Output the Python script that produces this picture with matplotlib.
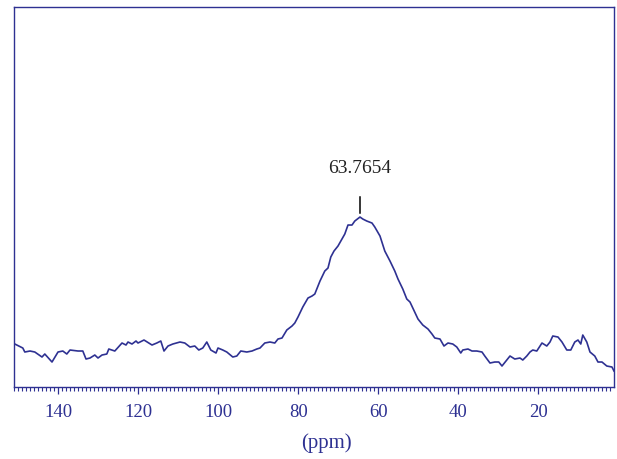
import matplotlib
matplotlib.use("Agg")
import matplotlib.pyplot as plt
from matplotlib.ticker import MultipleLocator

# spectrum (ppm, intensity in arbitrary units)
ppm = [150.9, 148.9, 148.4, 147.1, 145.9, 144.1, 143.4, 141.6, 140.1, 138.9,
       137.9, 137.1, 135.1, 133.9, 133.1, 132.1, 130.9, 130.1, 129.1, 127.9,
       127.4, 125.9, 124.1, 123.1, 122.6, 121.6, 120.6, 120.1, 118.6, 116.6,
       115.4, 114.4, 113.6, 112.6, 111.4, 109.6, 108.4, 107.1, 105.9, 104.9,
       103.9, 102.9, 101.9, 100.6, 100.1, 98.9, 97.9, 96.4, 95.4, 94.4,
       92.9, 91.6, 90.4, 89.6, 88.4, 87.1, 85.9, 85.1, 84.1, 82.9,
       81.6, 80.9, 80.1, 78.9, 77.6, 76.6, 75.9, 74.6, 73.4, 72.6,
       71.9, 71.1, 70.1, 69.1, 68.4, 67.6, 66.6, 65.9, 64.6, 63.9,
       62.9, 61.6, 60.9, 59.6, 58.4, 57.1, 55.9, 55.1, 53.9, 52.9,
       52.1, 50.1, 48.9, 47.6, 46.6, 45.9, 44.6, 43.6, 42.6, 41.4,
       40.4, 39.4, 38.9, 37.6, 36.6, 35.4, 34.1, 33.4, 32.1, 30.9,
       29.9, 29.1, 27.9, 27.1, 25.9, 24.6, 23.9, 22.9, 22.1, 21.4,
       20.4, 19.1, 17.9, 17.1, 16.4, 15.1, 14.1, 12.9, 11.9, 10.9,
       10.1, 9.4, 8.9, 7.9, 7.1, 5.9, 5.1, 4.1, 2.9, 1.6, 1.1]
intensity = [43, 39, 35, 36, 35, 30, 33, 25, 35, 36,
             33, 37, 36, 36, 28, 29, 32, 29, 32, 33,
             38, 36, 44, 42, 45, 43, 46, 44, 47, 42,
             44, 46, 36, 41, 43, 45, 44, 40, 41, 37,
             39, 45, 37, 34, 39, 37, 35, 30, 31, 36,
             35, 36, 38, 39, 44, 45, 44, 48, 49, 57,
             61, 64, 70, 80, 89, 91, 93, 106, 116, 119,
             130, 136, 141, 148, 153, 162, 162, 166, 170, 168,
             166, 164, 160, 151, 136, 126, 116, 108, 98, 88,
             85, 68, 62, 58, 53, 49, 48, 41, 44, 43,
             40, 34, 37, 38, 36, 36, 35, 31, 24, 25,
             25, 21, 27, 31, 28, 29, 27, 31, 35, 37,
             36, 44, 41, 45, 51, 50, 45, 37, 37, 45,
             47, 43, 52, 45, 35, 31, 25, 25, 21, 20, 16]

peak_label = "63.7654"
x_ticks = [140, 120, 100, 80, 60, 40, 20]

blue = "#2e3192"

fig = plt.figure(figsize=(6.17, 4.60), dpi=100)
ax = fig.add_axes([0.0227, 0.1565, 0.9724, 0.826])

ax.plot(ppm, intensity, color=blue, lw=1.2)

# peak marker + label
i_max = intensity.index(max(intensity))
px = ppm[i_max]
ax.plot([px, px], [intensity[i_max] + 4, intensity[i_max] + 20], color="black", lw=1.1)
ax.text(px, intensity[i_max] + 41, peak_label, ha="center", va="bottom",
        fontsize=14, family="Liberation Serif", color="#222222")

ax.set_xlim(151.1, 1.1)
ax.set_ylim(0, 380)
ax.set_yticks([])
ax.set_xticks(x_ticks)
ax.xaxis.set_minor_locator(MultipleLocator(1))
ax.tick_params(axis="x", which="major", direction="out", length=5, width=0.9,
               color=blue, labelcolor=blue, labelsize=13.5, pad=6.5)
ax.tick_params(axis="x", which="minor", direction="out", length=3, width=0.8, color=blue)
for lab in ax.get_xticklabels():
    lab.set_family("Liberation Serif")

for sp in ax.spines.values():
    sp.set_color(blue)
    sp.set_linewidth(1.0)

ax.set_xlabel("(ppm)", fontsize=15, family="Liberation Serif", color=blue)
ax.xaxis.set_label_coords(0.52, -0.118)

fig.savefig("out.png", dpi=100)
